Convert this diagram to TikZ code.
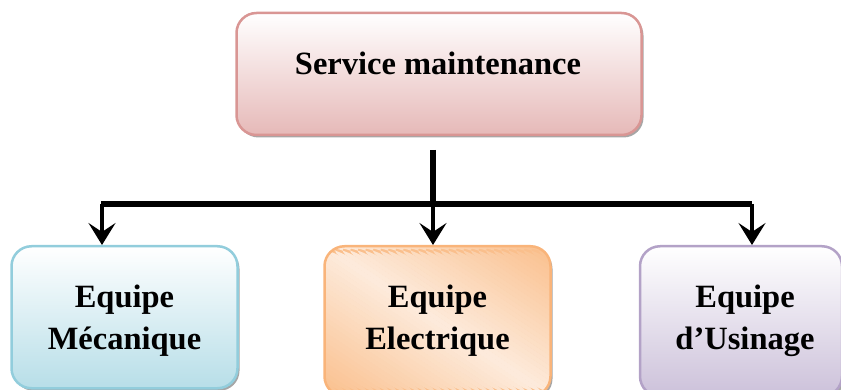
\documentclass[tikz,border=0pt]{standalone}
\usepackage{fontspec}
\setmainfont{Liberation Serif}
\usetikzlibrary{arrows.meta,shadows}

\definecolor{redline}{HTML}{D99694}
\definecolor{redfill}{HTML}{E6B9B8}
\definecolor{blueline}{HTML}{92CDDC}
\definecolor{bluefill}{HTML}{B7DEE8}
\definecolor{orangeline}{HTML}{F9B47A}
\definecolor{orangedark}{HTML}{FABF8C}
\definecolor{orangelight}{HTML}{FDEBDC}
\definecolor{violetline}{HTML}{B3A2C7}
\definecolor{violetfill}{HTML}{CCC1DA}

\tikzset{
  box/.style={rounded corners=20pt, line width=2.5pt, inner sep=0pt,
    drop shadow={shadow xshift=2pt, shadow yshift=-2.5pt, opacity=0.35, fill=black}},
  label/.style={font=\bfseries\fontsize{32.5}{41.6}\selectfont, align=center, inner sep=0pt},
  bar/.style={line width=6.5pt},
  branch/.style={line width=3.5pt, -{Stealth[length=22pt, width=27pt, inset=9pt]}}
}

\begin{document}
\begin{tikzpicture}[x=1pt, y=-1pt]
  \clip (0,0) rectangle (841,390);
  \useasboundingbox (0,0) rectangle (841,390);

  % head box
  \node[box, draw=redline, top color=white, bottom color=redfill,
        minimum width=405pt, minimum height=122pt] (head) at (439,74) {};
  \node[label, anchor=base] (headT) at (438,75) {Service maintenance};

  % team boxes
  \node[box, draw=blueline, top color=white, bottom color=bluefill,
        minimum width=226pt, minimum height=142pt, anchor=north] (mec) at (124.5,245) {};
  % orange box: light band along the falling diagonal, darker towards
  % the upper right and lower left corners (drawn as thin stripes)
  \node[box, draw=orangeline, fill=orangedark,
        minimum width=226pt, minimum height=150pt, anchor=north,
        path picture={
          \foreach \i in {-30,...,29} {
            \pgfmathsetmacro\off{\i*7.55}
            \pgfmathsetmacro\pct{max(0,100*(1-abs(\off+3.8)/226))}
            \fill[orangelight!\pct!orangedark]
              ([xshift=\off pt]path picture bounding box.north west)
              -- ++(8.2,0) -- ++(226,150) -- ++(-8.2,0) -- cycle;
          }
        }] (ele) at (437.5,245) {};
  \node[box, draw=violetline, top color=white, bottom color=violetfill,
        minimum width=202pt, minimum height=150pt, anchor=north] (usi) at (741,245) {};

  \node[label, anchor=base] (mecT) at (124.5,349) {Equipe\\Mécanique};
  \node[label, anchor=base] (eleT) at (437.5,349) {Equipe\\Electrique};
  \node[label, anchor=base] (usiT) at (745,349) {Equipe\\d’Usinage};

  % connectors
  \coordinate (stem) at (433,150);
  \coordinate (hl) at (101,204);
  \coordinate (hm) at (433,204);
  \coordinate (hr) at (752,204);
  \draw[bar] (stem) -- (hm);
  \draw[bar] (hl) -- (hr);
  \draw[branch] ([xshift=1pt]hl) -- ([xshift=1pt]hl |- mec.north);
  \draw[branch] (hm) -- (hm |- ele.north);
  \draw[branch] (hr) -- (hr |- usi.north);
\end{tikzpicture}
\end{document}
